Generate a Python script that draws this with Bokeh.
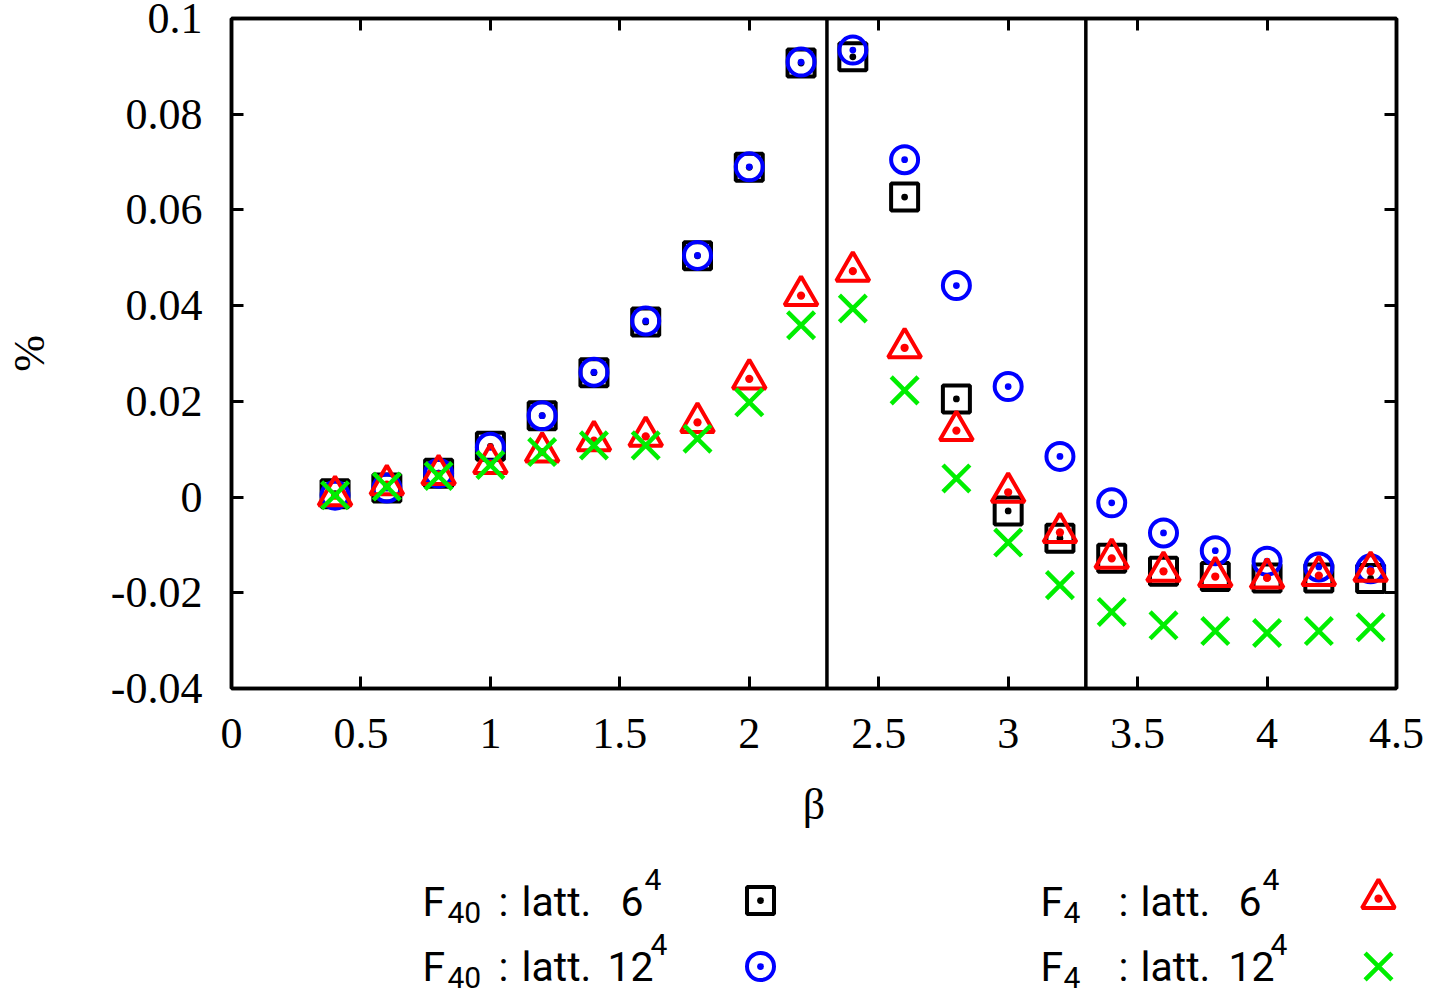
from bokeh.plotting import figure
from bokeh.models import Range1d, FixedTicker, LinearAxis, Span, CustomJSTickFormatter, ColumnDataSource
from bokeh.layouts import column
from bokeh.core.properties import value
from bokeh.embed import file_html
from bokeh.resources import INLINE

# ---------------- data ----------------
beta = [0.4, 0.6, 0.8, 1.0, 1.2, 1.4, 1.6, 1.8, 2.0, 2.2, 2.4,
        2.6, 2.8, 3.0, 3.2, 3.4, 3.6, 3.8, 4.0, 4.2, 4.4]
f40_latt6 = [0.0007, 0.0019, 0.0050, 0.0106, 0.0170, 0.0260, 0.0366, 0.0504, 0.0689, 0.0907, 0.0920,
             0.0627, 0.0205, -0.0029, -0.0086, -0.0128, -0.0155, -0.0166, -0.0169, -0.0169, -0.0170]
f40_latt12 = [0.0004, 0.0019, 0.0050, 0.0104, 0.0170, 0.0261, 0.0368, 0.0505, 0.0690, 0.0909, 0.0934,
              0.0705, 0.0442, 0.0231, 0.0085, -0.0012, -0.0075, -0.0112, -0.0134, -0.0146, -0.0150]
f4_latt6 = [0.0003, 0.0026, 0.0047, 0.0070, 0.0094, 0.0118, 0.0127, 0.0156, 0.0247, 0.0421, 0.0472,
            0.0312, 0.0139, 0.0010, -0.0074, -0.0128, -0.0155, -0.0166, -0.0169, -0.0164, -0.0155]
f4_latt12 = [0.0004, 0.0022, 0.0044, 0.0067, 0.0094, 0.0108, 0.0108, 0.0122, 0.0198, 0.0359, 0.0394,
             0.0223, 0.0039, -0.0095, -0.0184, -0.0240, -0.0268, -0.0280, -0.0284, -0.0280, -0.0272]
phase_lines = [2.3, 3.3]

x_ticks = [0, 0.5, 1, 1.5, 2, 2.5, 3, 3.5, 4, 4.5]
x_tick_labels = ["0", "0.5", "1", "1.5", "2", "2.5", "3", "3.5", "4", "4.5"]
y_ticks = [-0.04, -0.02, 0, 0.02, 0.04, 0.06, 0.08, 0.1]
y_tick_labels = ["-0.04", "-0.02", "0", "0.02", "0.04", "0.06", "0.08", "0.1"]

SERIF = "Liberation Serif"
SANS = "Roboto"
GREEN = "#00ee00"

# frame placement (canvas pixels)
FL, FR, FT, FB = 231, 1396, 18, 688
MAIN_H = 860
W, H = 1430, 994

# ---------------- main plot ----------------
p = figure(width=W, height=MAIN_H, x_range=Range1d(0, 4.5), y_range=Range1d(-0.04, 0.1),
           output_backend="svg", toolbar_location=None,
           min_border_left=FL, min_border_right=W - FR, min_border_top=FT, min_border_bottom=MAIN_H - FB)
p.grid.visible = False
p.outline_line_color = "black"
p.outline_line_width = 3.5
p.background_fill_color = "white"
p.border_fill_color = "white"

fmt = CustomJSTickFormatter(code="return String(parseFloat(tick.toPrecision(6)));")


def style_axis(ax, ticks, labels, show_labels):
    ax.ticker = FixedTicker(ticks=ticks)
    ax.formatter = fmt
    ax.major_label_overrides = {t: l for t, l in zip(ticks, labels)}
    ax.major_tick_in = 12
    ax.major_tick_out = 0
    ax.minor_tick_in = 0
    ax.minor_tick_out = 0
    ax.major_tick_line_width = 3
    ax.major_tick_line_color = "black"
    ax.axis_line_width = 3.5
    ax.axis_line_color = "black"
    ax.major_label_text_font = SERIF
    ax.major_label_text_font_style = "normal"
    if show_labels:
        ax.major_label_text_font_size = "44px"
        ax.major_label_text_color = "black"
    else:
        ax.major_label_text_font_size = "1px"
        ax.major_label_text_color = None
        ax.major_label_standoff = 0


xa = p.xaxis[0]
ya = p.yaxis[0]
style_axis(xa, x_ticks, x_tick_labels, True)
style_axis(ya, y_ticks, y_tick_labels, True)
xa.major_label_standoff = 30
ya.major_label_standoff = 29
xa.axis_label = "β"
ya.axis_label = "%"
for ax in (xa, ya):
    ax.axis_label_text_font = SERIF
    ax.axis_label_text_font_size = "44px"
    ax.axis_label_text_font_style = "normal"
    ax.axis_label_text_color = "black"
xa.axis_label_standoff = 29
ya.axis_label_standoff = 54

top = LinearAxis()
style_axis(top, x_ticks, x_tick_labels, False)
p.add_layout(top, "above")
right = LinearAxis()
style_axis(right, y_ticks, y_tick_labels, False)
p.add_layout(right, "right")

for loc in phase_lines:
    p.add_layout(Span(location=loc, dimension="height", line_color="black", line_width=3.5))

src = ColumnDataSource(dict(beta=beta, f40_6=f40_latt6, f40_12=f40_latt12, f4_6=f4_latt6, f4_12=f4_latt12))
SQ = dict(marker="square_dot", size=27, line_width=4, line_color="black", fill_color=None)
CI = dict(marker="circle_dot", size=27, line_width=4, line_color="blue", fill_color=None)
TR = dict(marker="triangle_dot", size=33, line_width=4, line_color="red", fill_color=None)
XX = dict(marker="x", size=38, line_width=4.5, line_color=GREEN)
p.scatter("beta", "f40_6", source=src, **SQ)
p.scatter("beta", "f40_12", source=src, **CI)
p.scatter("beta", "f4_6", source=src, **TR)
p.scatter("beta", "f4_12", source=src, **XX)

# ---------------- legend (below) ----------------
# the legend figure's frame is aligned with the main frame horizontally,
# so x is given in canvas pixels through a FL..FR range
lg = figure(width=W, height=H - MAIN_H, x_range=Range1d(FL, FR), y_range=Range1d(H, MAIN_H),
            output_backend="svg", toolbar_location=None, min_border=0)
lg.axis.visible = False
lg.grid.visible = False
lg.outline_line_color = None
lg.background_fill_color = "white"
lg.border_fill_color = "white"

DY = -14
legend_rows = [
    # (x, y_baseline, text, size)
    (422, 915, "F", 41), (447, 926, "40", 30), (498, 915, ":", 41), (521, 915, "latt.", 41),
    (620, 915, "6", 41), (644, 893, "4", 30),
    (422, 980, "F", 41), (447, 991, "40", 30), (498, 980, ":", 41), (521, 980, "latt.", 41),
    (607, 980, "12", 41), (650, 958, "4", 30),
    (1040, 915, "F", 41), (1063, 926, "4", 30), (1118, 915, ":", 41), (1140, 915, "latt.", 41),
    (1238, 915, "6", 41), (1262, 893, "4", 30),
    (1040, 980, "F", 41), (1063, 991, "4", 30), (1118, 980, ":", 41), (1140, 980, "latt.", 41),
    (1228, 980, "12", 41), (1270, 958, "4", 30),
]
lsrc = ColumnDataSource(dict(
    x=[r[0] for r in legend_rows], y=[r[1] + DY for r in legend_rows],
    t=[r[2] for r in legend_rows], s=["%dpx" % r[3] for r in legend_rows]))
lg.text(x="x", y="y", text="t", source=lsrc, text_font=value(SANS), text_font_size="s",
        text_baseline="alphabetic", text_align="left", text_color="black")

lg.scatter([760], [900], **SQ)
lg.scatter([760], [966], **CI)
lg.scatter([1378], [898], **TR)
lg.scatter([1378], [966], **XX)

layout = column(p, lg, spacing=0)
open("out.html", "w").write(file_html(layout, INLINE))
